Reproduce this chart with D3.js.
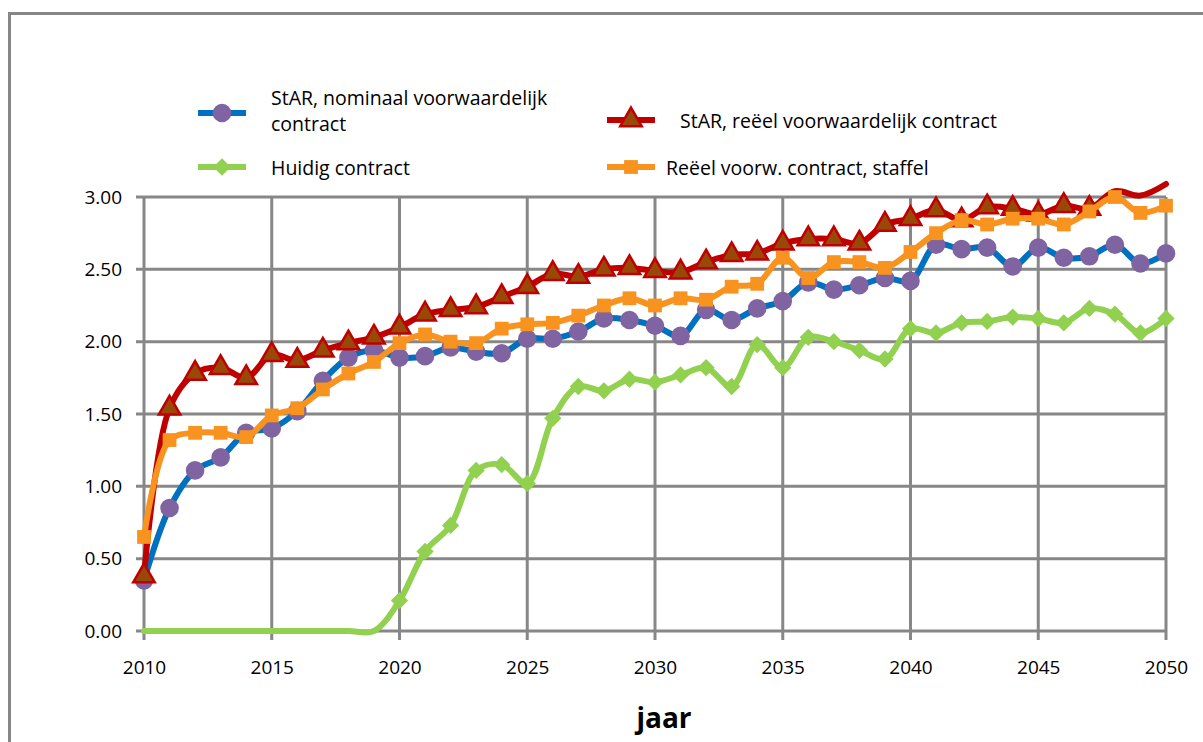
<!DOCTYPE html>
<html><head><meta charset="utf-8">
<script src="https://cdn.jsdelivr.net/npm/d3@7"></script>
<style>body{margin:0;background:#fff}svg{display:block}</style>
</head><body>
<svg id="c" width="1203" height="742"></svg>
<script>
const years = [2010,2011,2012,2013,2014,2015,2016,2017,2018,2019,2020,2021,2022,2023,2024,2025,2026,2027,2028,2029,2030,2031,2032,2033,2034,2035,2036,2037,2038,2039,2040,2041,2042,2043,2044,2045,2046,2047,2048,2049,2050];
const nominaal = [0.35,0.85,1.11,1.20,1.37,1.40,1.52,1.73,1.89,1.94,1.89,1.90,1.96,1.93,1.92,2.02,2.02,2.07,2.16,2.15,2.11,2.04,2.22,2.15,2.23,2.28,2.41,2.36,2.39,2.44,2.42,2.67,2.64,2.65,2.52,2.65,2.58,2.59,2.67,2.54,2.61];
const reeel = [0.38,1.54,1.78,1.82,1.75,1.91,1.87,1.94,1.99,2.03,2.10,2.19,2.22,2.24,2.31,2.38,2.47,2.45,2.50,2.51,2.49,2.48,2.55,2.60,2.61,2.68,2.71,2.71,2.68,2.81,2.85,2.91,2.84,2.93,2.92,2.88,2.94,2.92,3.04,3.01,3.09];
const huidig = [0,0,0,0,0,0,0,0,0,0,0.21,0.55,0.73,1.11,1.15,1.02,1.47,1.69,1.66,1.74,1.72,1.77,1.82,1.69,1.98,1.82,2.03,2.00,1.94,1.88,2.09,2.06,2.13,2.14,2.17,2.16,2.13,2.23,2.19,2.06,2.16];
const staffel = [0.65,1.32,1.37,1.37,1.34,1.49,1.54,1.67,1.78,1.86,1.99,2.05,2.00,1.99,2.09,2.12,2.13,2.18,2.25,2.30,2.25,2.30,2.29,2.38,2.40,2.58,2.44,2.55,2.55,2.51,2.62,2.75,2.84,2.81,2.85,2.85,2.81,2.90,3.00,2.89,2.94];
const seriesNames = ["StAR, nominaal voorwaardelijk contract","StAR, reëel voorwaardelijk contract","Huidig contract","Reëel voorw. contract, staffel"];
const yTicks = [0,0.5,1,1.5,2,2.5,3];
const xTicks = [2010,2015,2020,2025,2030,2035,2040,2045,2050];
const xTitle = "jaar";

const svg = d3.select("#c");
const FONT = "'Open Sans', sans-serif";
const x = d3.scaleLinear().domain([2010,2050]).range([144,1166]);
const y = d3.scaleLinear().domain([0,3]).range([631,197]);
const grid = "#878787";

// outer border
svg.append("rect").attr("x",9.5).attr("y",13.5).attr("width",1300).attr("height",800)
  .attr("fill","none").attr("stroke",grid).attr("stroke-width",3);

// grid
const gg = svg.append("g");
gg.selectAll("line.h").data(yTicks).join("line")
  .attr("x1",x(2010)-8).attr("x2",x(2050)).attr("y1",d=>y(d)).attr("y2",d=>y(d))
  .attr("stroke",grid).attr("stroke-width",3);
gg.selectAll("line.v").data(xTicks).join("line")
  .attr("x1",d=>x(d)).attr("x2",d=>x(d)).attr("y1",y(3)).attr("y2",y(0)+9)
  .attr("stroke",grid).attr("stroke-width",3);

// axes labels
const ya = svg.append("g").attr("transform",`translate(${x(2010)},0)`)
  .call(d3.axisLeft(y).tickValues(yTicks).tickFormat(d3.format(".2f")).tickSize(0).tickPadding(22));
const xa = svg.append("g").attr("transform",`translate(0,${y(0)})`)
  .call(d3.axisBottom(x).tickValues(xTicks).tickFormat(d3.format("d")).tickSize(0).tickPadding(30));
[ya,xa].forEach(a=>{a.select(".domain").remove();a.selectAll("text").attr("font-family",FONT).attr("font-size",19).attr("fill","#000");});

svg.append("text").attr("x",664).attr("y",728).attr("text-anchor","middle")
  .attr("font-family",FONT).attr("font-size",28).attr("font-weight","bold").text(xTitle);

// symbols
const sym = {
  circle: d3.symbol().type(d3.symbolCircle).size(Math.PI*9.3*9.3),
  triangle: d3.symbol().type(d3.symbolTriangle).size(200),
  diamond: d3.symbol().type(d3.symbolSquare).size(150),
  square: d3.symbol().type(d3.symbolSquare).size(190)
};
const series = [
  {name:seriesNames[0], vals:nominaal, line:"#0070C0", mfill:"#8064A2", mstroke:"#8064A2", sw:0, sym:"circle", rot:0},
  {name:seriesNames[1], vals:reeel, line:"#C00000", mfill:"#984807", mstroke:"#C00000", sw:2.5, sym:"triangle", rot:0},
  {name:seriesNames[2], vals:huidig, line:"#92D050", mfill:"#92D050", mstroke:"#92D050", sw:0, sym:"diamond", rot:45},
  {name:seriesNames[3], vals:staffel, line:"#F7931E", mfill:"#F7931E", mstroke:"#F7931E", sw:0, sym:"square", rot:0}
];
const lineGen = d3.line().x(d=>x(d[0])).y(d=>y(d[1])).curve(d3.curveCatmullRom.alpha(0.5));

series.forEach(s=>{
  const pts = years.map((yr,i)=>[yr,s.vals[i]]);
  const g = svg.append("g");
  g.append("path").attr("d",lineGen(pts)).attr("fill","none").attr("stroke",s.line)
    .attr("stroke-width",6).attr("stroke-linejoin","round").attr("stroke-linecap","round");
  const mp = pts.filter(p=>p[1]>0 && p[1]<=3.0);
  g.selectAll("path.m").data(mp).join("path").attr("class","m")
    .attr("d",sym[s.sym]())
    .attr("transform",d=>`translate(${x(d[0])},${y(d[1])}) rotate(${s.rot})`)
    .attr("fill",s.mfill).attr("stroke",s.mstroke).attr("stroke-width",s.sw);
});

// legend
const leg = [
  {s:series[0], lx:222, ly:113, tx:271, lines:["StAR, nominaal voorwaardelijk","contract"], ty:[105,131]},
  {s:series[1], lx:631, ly:120, tx:680, lines:[seriesNames[1]], ty:[128]},
  {s:series[2], lx:222, ly:167, tx:271, lines:[seriesNames[2]], ty:[175]},
  {s:series[3], lx:631, ly:167, tx:666, lines:[seriesNames[3]], ty:[175]}
];
leg.forEach(L=>{
  const g = svg.append("g");
  g.append("line").attr("x1",L.lx-24).attr("x2",L.lx+24).attr("y1",L.ly).attr("y2",L.ly)
    .attr("stroke",L.s.line).attr("stroke-width",6);
  g.append("path").attr("d",sym[L.s.sym]()).attr("transform",`translate(${L.lx},${L.ly}) rotate(${L.s.rot})`)
    .attr("fill",L.s.mfill).attr("stroke",L.s.mstroke).attr("stroke-width",L.s.sw);
  L.lines.forEach((t,i)=>g.append("text").attr("x",L.tx).attr("y",L.ty[i]).attr("font-family",FONT)
    .attr("font-size",19.5).attr("fill","#000").text(t));
});
</script>
</body></html>
